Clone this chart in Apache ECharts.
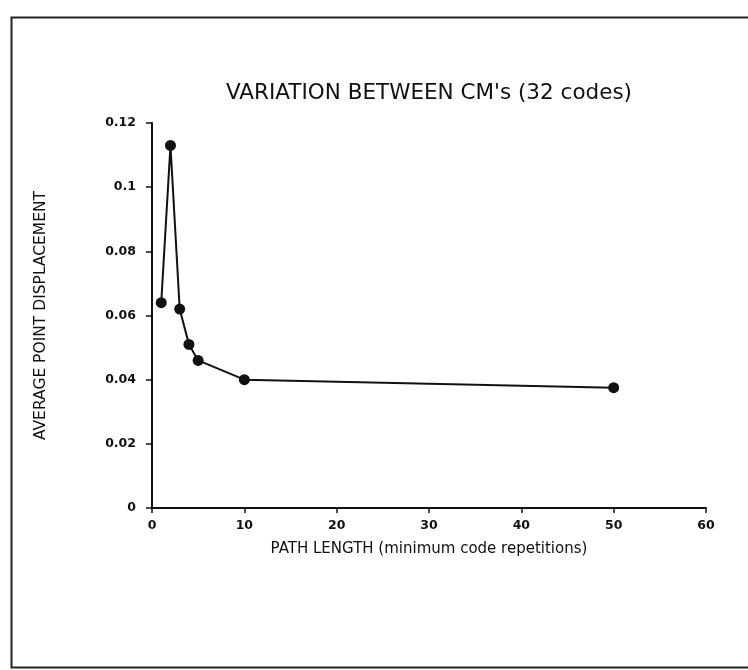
<!DOCTYPE html>
<html>
<head>
<meta charset="utf-8">
<script src="https://cdn.jsdelivr.net/npm/echarts@6/dist/echarts.min.js"></script>
<style>
html,body{margin:0;padding:0;background:#fff;}
#chart{width:748px;height:670px;}
</style>
</head>
<body>
<div id="chart"></div>
<script>
const titleText = "VARIATION BETWEEN CM's (32 codes)";
const xName = "PATH LENGTH (minimum code repetitions)";
const yName = "AVERAGE POINT DISPLACEMENT";
const pathLength = [1, 2, 3, 4, 5, 10, 50];
const displacement = [0.064, 0.113, 0.062, 0.051, 0.046, 0.040, 0.0375];

const chart = echarts.init(document.getElementById('chart'));
const font = "'DejaVu Sans', 'Liberation Sans', sans-serif";
chart.setOption({
  backgroundColor: '#fff',
  animation: false,
  title: {
    text: titleText,
    left: 424, top: 77, textAlign: 'center',
    textStyle: {fontFamily: font, fontSize: 21.5, fontWeight: 'normal', color: '#111'}
  },
  graphic: [{
    type: 'rect', left: 9, top: 15,
    shape: {width: 760, height: 650},
    style: {fill: 'none', stroke: '#222', lineWidth: 2},
    silent: true
  }],
  grid: {left: 152, top: 123, right: 42, bottom: 162},
  xAxis: {
    type: 'value', min: 0, max: 60, interval: 10,
    name: xName, nameLocation: 'middle', nameGap: 34,
    nameTextStyle: {fontFamily: font, fontSize: 15, color: '#111'},
    axisLine: {lineStyle: {color: '#111', width: 2}},
    axisTick: {show: true, length: 5, lineStyle: {color: '#111', width: 1.5}},
    axisLabel: {margin: 11, fontFamily: font, fontSize: 12.5, fontWeight: 'bold', color: '#111'},
    splitLine: {show: false}
  },
  yAxis: {
    type: 'value', min: 0, max: 0.12, interval: 0.02,
    name: yName, nameLocation: 'middle', nameGap: 103, nameRotate: 90,
    nameTextStyle: {fontFamily: font, fontSize: 15.5, color: '#111'},
    axisLine: {show: true, lineStyle: {color: '#111', width: 2}},
    axisTick: {show: true, length: 6, lineStyle: {color: '#111', width: 1.5}},
    axisLabel: {margin: 16, fontFamily: font, fontSize: 12.5, fontWeight: 'bold', color: '#111',
      formatter: v => v === 0 ? '0' : String(+v.toFixed(2))},
    splitLine: {show: false}
  },
  series: [{
    type: 'line',
    data: pathLength.map((x, i) => [x, displacement[i]]),
    symbol: 'circle', symbolSize: 11,
    lineStyle: {color: '#111', width: 2},
    itemStyle: {color: '#111'}
  }]
});
</script>
</body>
</html>
